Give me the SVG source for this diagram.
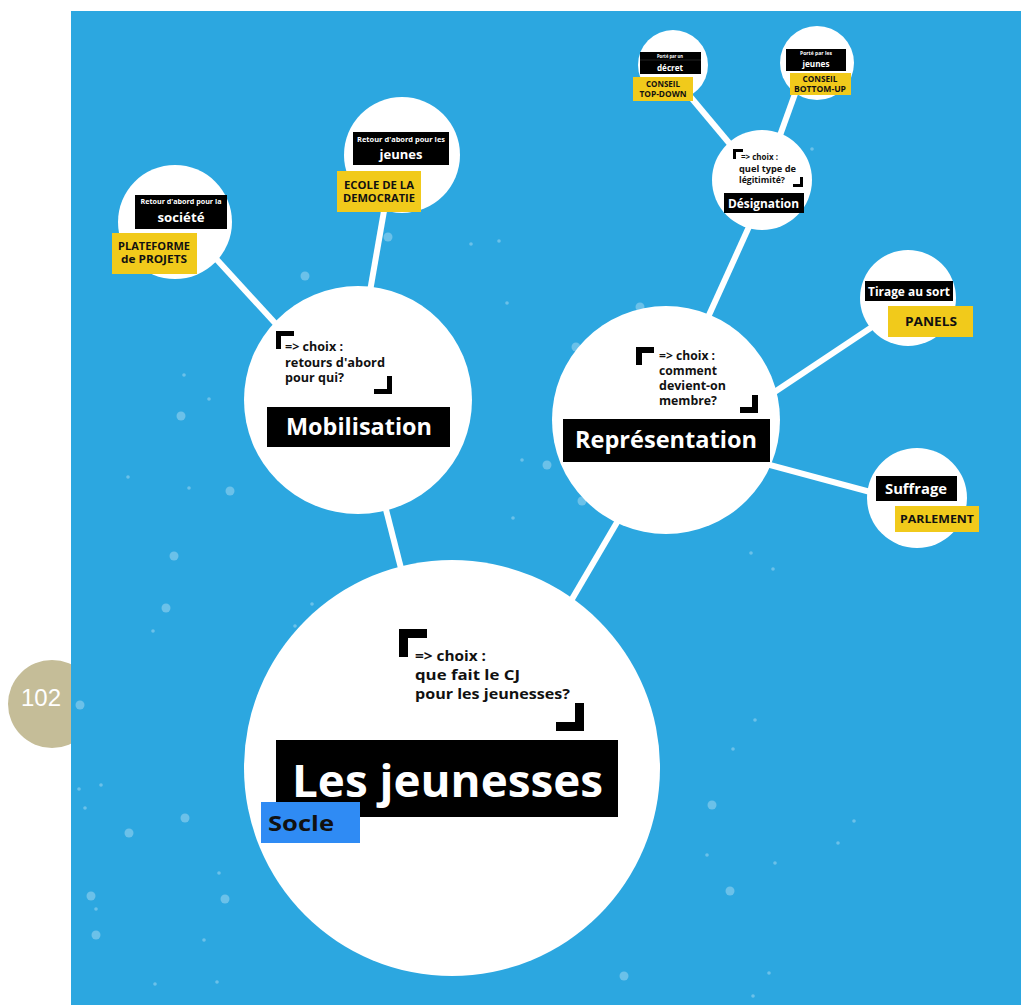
<svg xmlns="http://www.w3.org/2000/svg" width="1021" height="1005" viewBox="0 0 1021 1005">
<style>
.bub{fill:#fff}
.con{stroke:#fff;stroke-width:6;stroke-linecap:butt}
.blk{fill:#000}
.yel{fill:#f1ca1b}
.wt{fill:#fff;font-family:"Open Sans","Noto Sans",sans-serif;font-weight:700}
.bt{fill:#111;font-family:"Open Sans","Noto Sans",sans-serif;font-weight:700}
.dot{fill:#fff;opacity:0.3}
</style>
<rect width="1021" height="1005" fill="#fff"/>
<g id="page-number">
<circle cx="52" cy="704" r="44" fill="#c5bd98"/>
<text x="41" y="706" text-anchor="middle" font-family="Liberation Sans, Carlito, sans-serif" font-size="24" fill="#fff">102</text>
</g>
<rect x="71" y="11" width="950" height="994" fill="#2ca7e0"/>
<g id="dots">
<circle class="dot" cx="184" cy="375" r="1.8"/><circle class="dot" cx="209" cy="399" r="1.8"/><circle class="dot" cx="181" cy="416" r="4.5"/>
<circle class="dot" cx="128" cy="477" r="1.8"/><circle class="dot" cx="189" cy="488" r="1.8"/><circle class="dot" cx="230" cy="491" r="4.5"/>
<circle class="dot" cx="174" cy="556" r="4.5"/><circle class="dot" cx="166" cy="608" r="4.5"/><circle class="dot" cx="153" cy="631" r="1.8"/>
<circle class="dot" cx="80" cy="705" r="4.5"/><circle class="dot" cx="79" cy="789" r="1.8"/><circle class="dot" cx="101" cy="785" r="1.8"/>
<circle class="dot" cx="85" cy="808" r="1.8"/><circle class="dot" cx="185" cy="818" r="4.5"/><circle class="dot" cx="129" cy="833" r="4.5"/>
<circle class="dot" cx="219" cy="873" r="1.8"/><circle class="dot" cx="91" cy="896" r="4.5"/><circle class="dot" cx="225" cy="899" r="4.5"/>
<circle class="dot" cx="96" cy="909" r="1.8"/><circle class="dot" cx="96" cy="935" r="4.5"/><circle class="dot" cx="204" cy="940" r="1.8"/>
<circle class="dot" cx="155" cy="984" r="1.8"/><circle class="dot" cx="217" cy="982" r="1.8"/>
<circle class="dot" cx="751" cy="553" r="1.8"/><circle class="dot" cx="773" cy="569" r="1.8"/><circle class="dot" cx="755" cy="720" r="1.8"/>
<circle class="dot" cx="733" cy="749" r="1.8"/><circle class="dot" cx="712" cy="805" r="4.5"/><circle class="dot" cx="854" cy="821" r="1.8"/>
<circle class="dot" cx="838" cy="843" r="1.8"/><circle class="dot" cx="707" cy="855" r="1.8"/><circle class="dot" cx="775" cy="863" r="1.8"/>
<circle class="dot" cx="730" cy="891" r="4.5"/><circle class="dot" cx="769" cy="973" r="1.8"/><circle class="dot" cx="753" cy="996" r="1.8"/>
<circle class="dot" cx="624" cy="976" r="4.5"/>
<circle class="dot" cx="471" cy="244" r="1.8"/><circle class="dot" cx="499" cy="241" r="1.8"/><circle class="dot" cx="507" cy="303" r="1.8"/>
<circle class="dot" cx="576" cy="347" r="4.5"/><circle class="dot" cx="522" cy="460" r="1.8"/><circle class="dot" cx="547" cy="465" r="4.5"/>
<circle class="dot" cx="582" cy="501" r="4.5"/><circle class="dot" cx="513" cy="518" r="1.8"/><circle class="dot" cx="640" cy="307" r="4.5"/>
<circle class="dot" cx="812" cy="149" r="1.8"/><circle class="dot" cx="388" cy="237" r="4.5"/><circle class="dot" cx="305" cy="276" r="4.5"/>
<circle class="dot" cx="312" cy="604" r="1.8"/><circle class="dot" cx="295" cy="626" r="1.8"/>
</g>
<g id="connectors">
<line class="con" x1="358" y1="400" x2="452" y2="768"/>
<line class="con" x1="473" y1="768" x2="677" y2="420"/>
<line class="con" x1="175" y1="214" x2="330" y2="383"/>
<line class="con" x1="365" y1="320" x2="392" y2="165"/>
<line class="con" x1="690" y1="357" x2="762" y2="198"/>
<line class="con" x1="740" y1="415" x2="905" y2="305"/>
<line class="con" x1="740" y1="457" x2="915" y2="504"/>
<line class="con" x1="673" y1="76" x2="745" y2="162"/>
<line class="con" x1="805" y1="66" x2="774" y2="152"/>
</g>
<g id="node-les-jeunesses">
<circle class="bub" cx="452" cy="768" r="208"/>
<path class="blk" d="M399,629h28v9h-19v19h-9z"/>
<path class="blk" d="M584,731h-28v-9h19v-19h9z"/>
<text class="bt" font-size="15" font-weight="600"><tspan x="415" y="661" textLength="71" lengthAdjust="spacingAndGlyphs">=&gt; choix :</tspan><tspan x="415" y="680" textLength="105" lengthAdjust="spacingAndGlyphs">que fait le CJ</tspan><tspan x="415" y="699" textLength="155" lengthAdjust="spacingAndGlyphs">pour les jeunesses?</tspan></text>
<rect class="blk" x="276" y="740" width="342" height="77"/>
<text class="wt" x="292" y="797" font-size="44" font-weight="600" textLength="311" lengthAdjust="spacingAndGlyphs">Les jeunesses</text>
<rect x="261" y="802" width="99" height="41" fill="#2f8bf4"/>
<text class="bt" x="268" y="831" font-size="21" textLength="66" lengthAdjust="spacingAndGlyphs">Socle</text>
</g>
<g id="node-mobilisation">
<circle class="bub" cx="358" cy="400" r="114"/>
<path class="blk" d="M276,331h18v5h-13v13h-5z"/>
<path class="blk" d="M392,394h-18v-5h13v-13h5z"/>
<text class="bt" font-size="12" font-weight="600"><tspan x="285" y="351" textLength="58" lengthAdjust="spacingAndGlyphs">=&gt; choix :</tspan><tspan x="285" y="367" textLength="100" lengthAdjust="spacingAndGlyphs">retours d'abord</tspan><tspan x="285" y="382" textLength="59" lengthAdjust="spacingAndGlyphs">pour qui?</tspan></text>
<rect class="blk" x="267" y="407" width="183" height="40"/>
<text class="wt" x="286" y="435" font-size="23" font-weight="600" textLength="146" lengthAdjust="spacingAndGlyphs">Mobilisation</text>
</g>
<g id="node-representation">
<circle class="bub" cx="666" cy="420" r="114"/>
<path class="blk" d="M636,347h18v6h-12v12h-6z"/>
<path class="blk" d="M758,413h-18v-6h12v-12h6z"/>
<text class="bt" font-size="11.5" font-weight="600"><tspan x="659" y="360" textLength="56" lengthAdjust="spacingAndGlyphs">=&gt; choix :</tspan><tspan x="659" y="375" textLength="58" lengthAdjust="spacingAndGlyphs">comment</tspan><tspan x="659" y="390" textLength="67" lengthAdjust="spacingAndGlyphs">devient-on</tspan><tspan x="659" y="405" textLength="58" lengthAdjust="spacingAndGlyphs">membre?</tspan></text>
<rect class="blk" x="563" y="419" width="207" height="43"/>
<text class="wt" x="575" y="448" font-size="23" font-weight="600" textLength="182" lengthAdjust="spacingAndGlyphs">Représentation</text>
</g>
<g id="node-societe">
<circle class="bub" cx="175" cy="222" r="57"/>
<rect class="blk" x="135" y="195" width="92" height="34"/>
<text class="wt" x="181" y="204" font-size="6.5" text-anchor="middle" textLength="81" lengthAdjust="spacingAndGlyphs">Retour d'abord pour la</text>
<text class="wt" x="181" y="222" font-size="12" font-weight="600" text-anchor="middle" textLength="47" lengthAdjust="spacingAndGlyphs">société</text>
<rect class="yel" x="112" y="233" width="85" height="41"/>
<text class="bt" font-size="10.5" text-anchor="middle"><tspan x="154" y="250" textLength="72" lengthAdjust="spacingAndGlyphs">PLATEFORME</tspan><tspan x="154" y="263" textLength="66" lengthAdjust="spacingAndGlyphs">de PROJETS</tspan></text>
</g>
<g id="node-jeunes">
<circle class="bub" cx="402" cy="155" r="58"/>
<rect class="blk" x="353" y="132" width="96" height="33"/>
<text class="wt" x="401" y="142" font-size="6.5" text-anchor="middle" textLength="88" lengthAdjust="spacingAndGlyphs">Retour d'abord pour les</text>
<text class="wt" x="401" y="159" font-size="13" font-weight="600" text-anchor="middle" textLength="43" lengthAdjust="spacingAndGlyphs">jeunes</text>
<rect class="yel" x="337" y="171" width="84" height="41"/>
<text class="bt" font-size="10.5" text-anchor="middle"><tspan x="379" y="189" textLength="70" lengthAdjust="spacingAndGlyphs">ECOLE DE LA</tspan><tspan x="379" y="202" textLength="72" lengthAdjust="spacingAndGlyphs">DEMOCRATIE</tspan></text>
</g>
<g id="node-designation">
<circle class="bub" cx="762" cy="180" r="50"/>
<path class="blk" d="M733,149h10v3h-7v7h-3z"/>
<path class="blk" d="M803,187h-10v-3h7v-7h3z"/>
<text class="bt" font-size="9" font-weight="600"><tspan x="741" y="160" textLength="37" lengthAdjust="spacingAndGlyphs">=&gt; choix :</tspan><tspan x="739" y="172" textLength="57" lengthAdjust="spacingAndGlyphs">quel type de</tspan><tspan x="739" y="183" textLength="46" lengthAdjust="spacingAndGlyphs">légitimité?</tspan></text>
<rect class="blk" x="724" y="193" width="80" height="20"/>
<text class="wt" x="728" y="208" font-size="13" font-weight="600" textLength="71" lengthAdjust="spacingAndGlyphs">Désignation</text>
</g>
<g id="node-decret">
<circle class="bub" cx="673" cy="65" r="35"/>
<rect class="blk" x="640" y="52" width="61" height="22"/>
<line x1="640" y1="60" x2="701" y2="60" stroke="#444" stroke-width="0.5"/>
<text class="wt" x="670" y="58" font-size="5" font-weight="400" text-anchor="middle" textLength="26" lengthAdjust="spacingAndGlyphs">Porté par un</text>
<text class="wt" x="670" y="71" font-size="9" font-weight="600" text-anchor="middle" textLength="26" lengthAdjust="spacingAndGlyphs">décret</text>
<rect class="yel" x="633" y="77" width="60" height="24"/>
<text class="bt" font-size="8" text-anchor="middle"><tspan x="663" y="87" textLength="34" lengthAdjust="spacingAndGlyphs">CONSEIL</tspan><tspan x="663" y="97" textLength="47" lengthAdjust="spacingAndGlyphs">TOP-DOWN</tspan></text>
</g>
<g id="node-jeunes-bottom-up">
<circle class="bub" cx="817" cy="63" r="37"/>
<rect class="blk" x="786" y="49" width="60" height="22"/>
<text class="wt" x="816" y="55" font-size="5" font-weight="400" text-anchor="middle" textLength="32" lengthAdjust="spacingAndGlyphs">Porté par les</text>
<text class="wt" x="816" y="67" font-size="9" font-weight="600" text-anchor="middle" textLength="27" lengthAdjust="spacingAndGlyphs">jeunes</text>
<rect class="yel" x="790" y="73" width="61" height="22"/>
<text class="bt" font-size="8" text-anchor="middle"><tspan x="820" y="82" textLength="35" lengthAdjust="spacingAndGlyphs">CONSEIL</tspan><tspan x="820" y="92" textLength="52" lengthAdjust="spacingAndGlyphs">BOTTOM-UP</tspan></text>
</g>
<g id="node-tirage">
<circle class="bub" cx="908" cy="298" r="48"/>
<rect class="blk" x="865" y="281" width="88" height="20"/>
<text class="wt" x="868" y="296" font-size="12" font-weight="600" textLength="82" lengthAdjust="spacingAndGlyphs">Tirage au sort</text>
<rect class="yel" x="888" y="306" width="85" height="31"/>
<text class="bt" x="931" y="326" font-size="12" text-anchor="middle" textLength="52" lengthAdjust="spacingAndGlyphs">PANELS</text>
</g>
<g id="node-suffrage">
<circle class="bub" cx="917" cy="498" r="50"/>
<rect class="blk" x="876" y="476" width="81" height="25"/>
<text class="wt" x="916" y="494" font-size="14" font-weight="600" text-anchor="middle" textLength="62" lengthAdjust="spacingAndGlyphs">Suffrage</text>
<rect class="yel" x="895" y="506" width="84" height="26"/>
<text class="bt" x="937" y="523" font-size="11" text-anchor="middle" textLength="74" lengthAdjust="spacingAndGlyphs">PARLEMENT</text>
</g>
</svg>
